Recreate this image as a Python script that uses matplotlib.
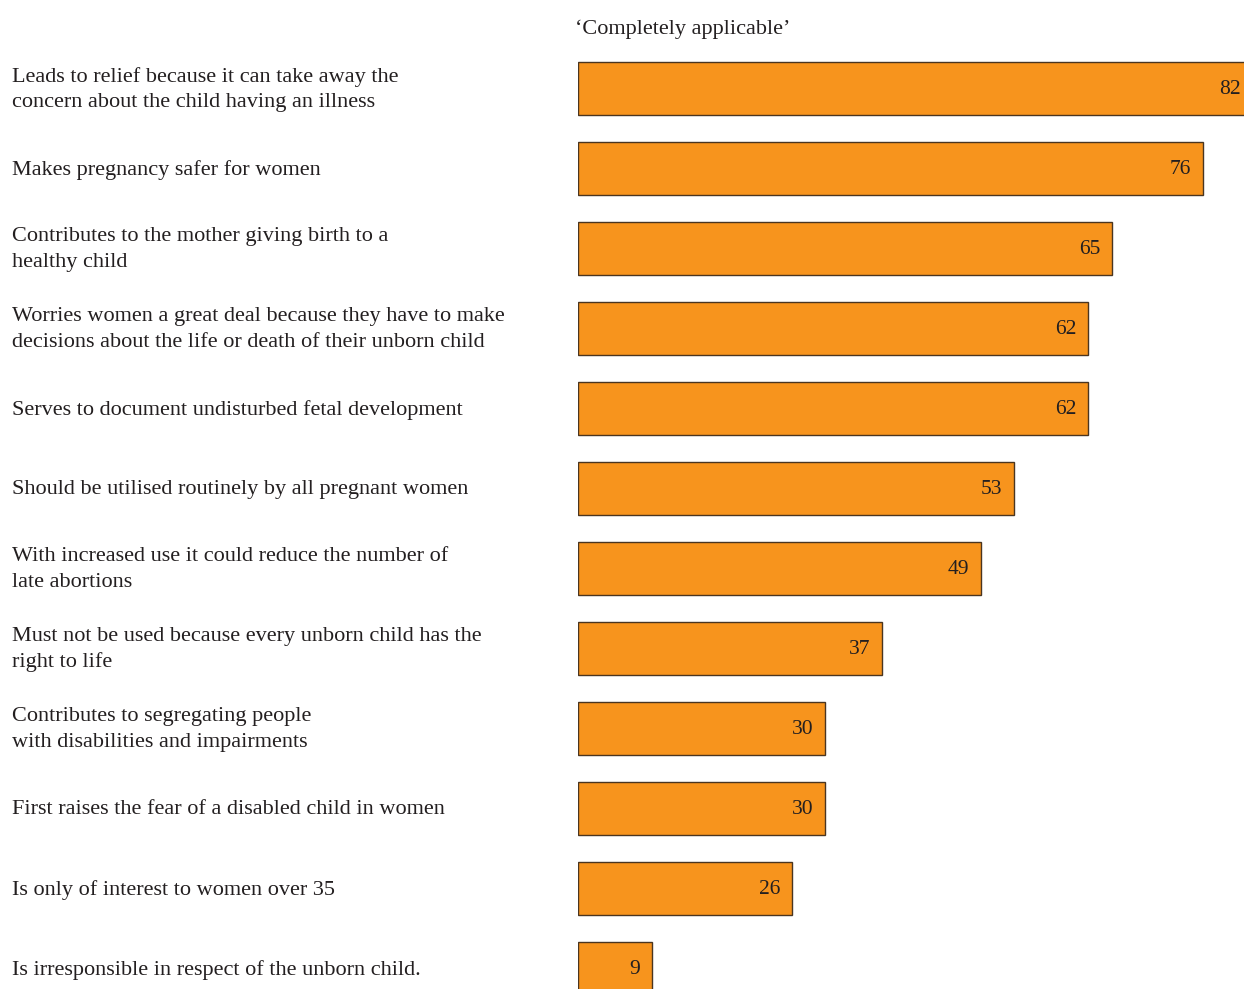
import matplotlib.pyplot as plt
from matplotlib import transforms

labels = [
    'Leads to relief because it can take away the\nconcern about the child having an illness',
    'Makes pregnancy safer for women',
    'Contributes to the mother giving birth to a\nhealthy child',
    'Worries women a great deal because they have to make\ndecisions about the life or death of their unborn child',
    'Serves to document undisturbed fetal development',
    'Should be utilised routinely by all pregnant women',
    'With increased use it could reduce the number of\nlate abortions',
    'Must not be used because every unborn child has the\nright to life',
    'Contributes to segregating people\nwith disabilities and impairments',
    'First raises the fear of a disabled child in women',
    'Is only of interest to women over 35',
    'Is irresponsible in respect of the unborn child.',
]
values = [82, 76, 65, 62, 62, 53, 49, 37, 30, 30, 26, 9]

plt.rcParams['font.family'] = ['Liberation Serif', 'DejaVu Serif']
txt_color = '#231f20'

W, H = 1244, 989
fig = plt.figure(figsize=(W / 100, H / 100), dpi=100)
# axes start where the bars start and run off the right edge
ax = fig.add_axes([578 / W, 0, 1 - 578 / W, 1])
ax.set_xlim(0, (W - 578) / 8.22)
ax.set_ylim((H - 88) / 80, -88 / 80)
ax.axis('off')

ypos = list(range(len(values)))
ax.barh(ypos, values, height=0.6625, left=0, color='#f7941d',
        edgecolor='#4a3520', linewidth=1.0)

for y, v in zip(ypos, values):
    ax.text(v - 1.4, y + 0.02, str(v), ha='right', va='center', fontsize=15.5,
            color=txt_color)

trans = transforms.blended_transform_factory(fig.transFigure, ax.transData)
for y, lab in zip(ypos, labels):
    ax.text(12 / W, y + 0.02, lab, transform=trans, ha='left', va='center',
            fontsize=16, linespacing=1.45, color=txt_color, clip_on=False)

fig.text(575 / W, 1 - 29 / H, '\u2018Completely applicable\u2019', ha='left',
         va='center', fontsize=16, color=txt_color)

fig.savefig('out.png', dpi=100)
